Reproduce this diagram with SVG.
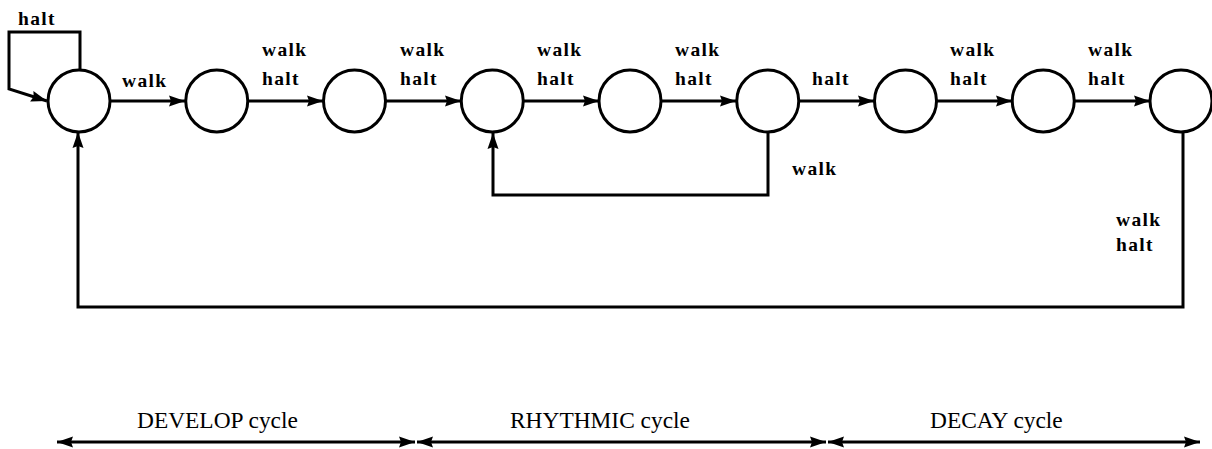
<svg xmlns="http://www.w3.org/2000/svg" width="1212" height="449" viewBox="0 0 1212 449">
  <style>
    .state { fill: #fff; stroke: #000; stroke-width: 3; }
    .edge { fill: none; stroke: #000; stroke-width: 3; marker-end: url(#arrow); }
    .span { fill: none; stroke: #000; stroke-width: 3; marker-start: url(#arrowL); marker-end: url(#arrow); }
    .lbl { font-family: "Liberation Serif", "Times New Roman", serif; font-weight: bold; font-size: 19.5px; letter-spacing: 1.3px; fill: #000; }
    .cyc { font-family: "Liberation Serif", "Times New Roman", serif; font-size: 23.4px; fill: #000; }
  </style>
  <defs>
    <marker id="arrow" markerUnits="userSpaceOnUse" markerWidth="18" markerHeight="12" refX="16" refY="5.5" orient="auto" overflow="visible">
      <path d="M0,0 L16,5.5 L0,11 L2,5.5 z" fill="#000"/>
    </marker>
    <marker id="arrowL" markerUnits="userSpaceOnUse" markerWidth="18" markerHeight="12" refX="0" refY="5.5" orient="auto" overflow="visible">
      <path d="M16,0 L0,5.5 L16,11 L14,5.5 z" fill="#000"/>
    </marker>
  </defs>

  <!-- connectors -->
  <g id="connectors">
    <path class="edge" d="M80,70 V32 H9 V89 L47,101"/>
    <path class="edge" d="M110,101 H185"/>
    <path class="edge" d="M248,101 H323"/>
    <path class="edge" d="M386,101 H461"/>
    <path class="edge" d="M523,101 H599"/>
    <path class="edge" d="M661,101 H736"/>
    <path class="edge" d="M799,101 H874"/>
    <path class="edge" d="M937,101 H1012"/>
    <path class="edge" d="M1074,101 H1150"/>
    <path class="edge" d="M768,132 V195 H493 V133"/>
    <path class="edge" d="M1183,132 V307 H78 V132"/>
  </g>

  <!-- states -->
  <g id="s1"><circle class="state" cx="79" cy="101" r="31"/></g>
  <g id="s2"><circle class="state" cx="216.75" cy="101" r="31"/></g>
  <g id="s3"><circle class="state" cx="354.5" cy="101" r="31"/></g>
  <g id="s4"><circle class="state" cx="492.25" cy="101" r="31"/></g>
  <g id="s5"><circle class="state" cx="630" cy="101" r="31"/></g>
  <g id="s6"><circle class="state" cx="767.75" cy="101" r="31"/></g>
  <g id="s7"><circle class="state" cx="905.5" cy="101" r="31"/></g>
  <g id="s8"><circle class="state" cx="1043.25" cy="101" r="31"/></g>
  <g id="s9"><circle class="state" cx="1181" cy="101" r="31"/></g>

  <!-- transition labels -->
  <g id="labels">
    <text class="lbl" x="18" y="25">halt</text>
    <text class="lbl" x="122" y="87">walk</text>
    <text class="lbl" x="262" y="56">walk</text>
    <text class="lbl" x="262" y="85">halt</text>
    <text class="lbl" x="400" y="56">walk</text>
    <text class="lbl" x="400" y="85">halt</text>
    <text class="lbl" x="537" y="56">walk</text>
    <text class="lbl" x="537" y="85">halt</text>
    <text class="lbl" x="675" y="56">walk</text>
    <text class="lbl" x="675" y="85">halt</text>
    <text class="lbl" x="812" y="85">halt</text>
    <text class="lbl" x="950" y="56">walk</text>
    <text class="lbl" x="950" y="85">halt</text>
    <text class="lbl" x="1088" y="56">walk</text>
    <text class="lbl" x="1088" y="85">halt</text>
    <text class="lbl" x="792" y="175">walk</text>
    <text class="lbl" x="1116" y="226">walk</text>
    <text class="lbl" x="1116" y="251">halt</text>
  </g>

  <!-- cycle spans -->
  <g id="cycles">
    <path class="span" d="M57,442 H415"/>
    <path class="span" d="M417,442 H826"/>
    <path class="span" d="M828,442 H1200"/>
    <text class="cyc" x="137" y="428">DEVELOP cycle</text>
    <text class="cyc" x="510" y="428">RHYTHMIC cycle</text>
    <text class="cyc" x="930" y="428">DECAY cycle</text>
  </g>
</svg>
